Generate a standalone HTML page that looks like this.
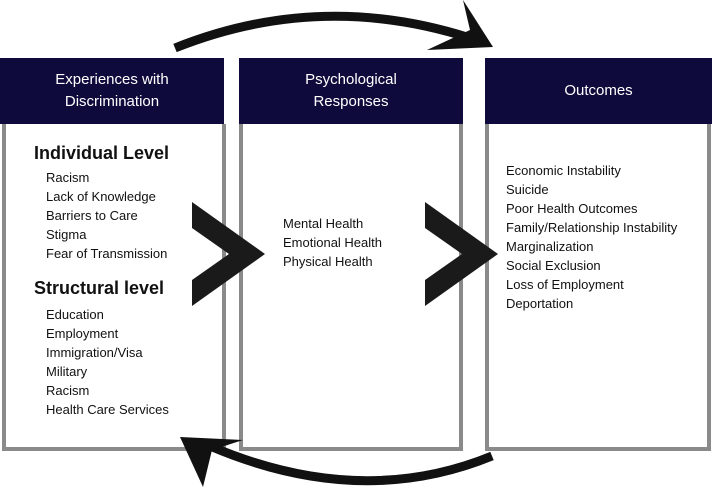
<!DOCTYPE html>
<html><head><style>
body{margin:0;width:712px;height:490px;background:#fff;position:relative;overflow:hidden;font-family:"Liberation Sans",sans-serif;}
.hdr{position:absolute;top:58px;height:66px;background:#0f0a3c;color:#fff;font-size:15px;line-height:22px;display:flex;align-items:center;justify-content:center;text-align:center;}
.body{position:absolute;top:124px;height:323px;border:4px solid #8a8a8a;border-top:none;box-sizing:content-box;}
.t{position:absolute;font-size:13px;line-height:19px;color:#111;white-space:nowrap;}
.b{position:absolute;font-size:18px;font-weight:bold;color:#111;white-space:nowrap;}
</style></head><body>
<div class="body" style="left:2px;width:216px;"></div>
<div class="body" style="left:239px;width:216px;"></div>
<div class="body" style="left:485px;width:218px;"></div>
<div class="hdr" style="left:0;width:224px;">Experiences with<br>Discrimination</div>
<div class="hdr" style="left:239px;width:224px;">Psychological<br>Responses</div>
<div class="hdr" style="left:485px;width:227px;">Outcomes</div>
<div class="b" style="left:34px;top:143px;">Individual Level</div>
<div class="t" style="left:46px;top:168px;">Racism<br>Lack of Knowledge<br>Barriers to Care<br>Stigma<br>Fear of Transmission</div>
<div class="b" style="left:34px;top:278px;">Structural level</div>
<div class="t" style="left:46px;top:305px;">Education<br>Employment<br>Immigration/Visa<br>Military<br>Racism<br>Health Care Services</div>
<div class="t" style="left:283px;top:214px;">Mental Health<br>Emotional Health<br>Physical Health</div>
<div class="t" style="left:506px;top:161px;">Economic Instability<br>Suicide<br>Poor Health Outcomes<br>Family/Relationship Instability<br>Marginalization<br>Social Exclusion<br>Loss of Employment<br>Deportation</div>
<svg width="712" height="490" style="position:absolute;left:0;top:0">
<polygon points="192,202 265,254 192,306 192,280 229,254 192,228" fill="#1a1a1a"/>
<polygon points="425,202 498,254 425,306 425,280 462,254 425,228" fill="#1a1a1a"/>
<path d="M175,48 Q320,-10 470,38" stroke="#111" stroke-width="9" fill="none"/>
<polygon points="493,47 463,0 470,30 427,50" fill="#111"/>
<path d="M492,456 Q360,510 210,446" stroke="#111" stroke-width="9" fill="none"/>
<polygon points="180,437 243,440 212,450 203,487" fill="#111"/>
</svg>
</body></html>
